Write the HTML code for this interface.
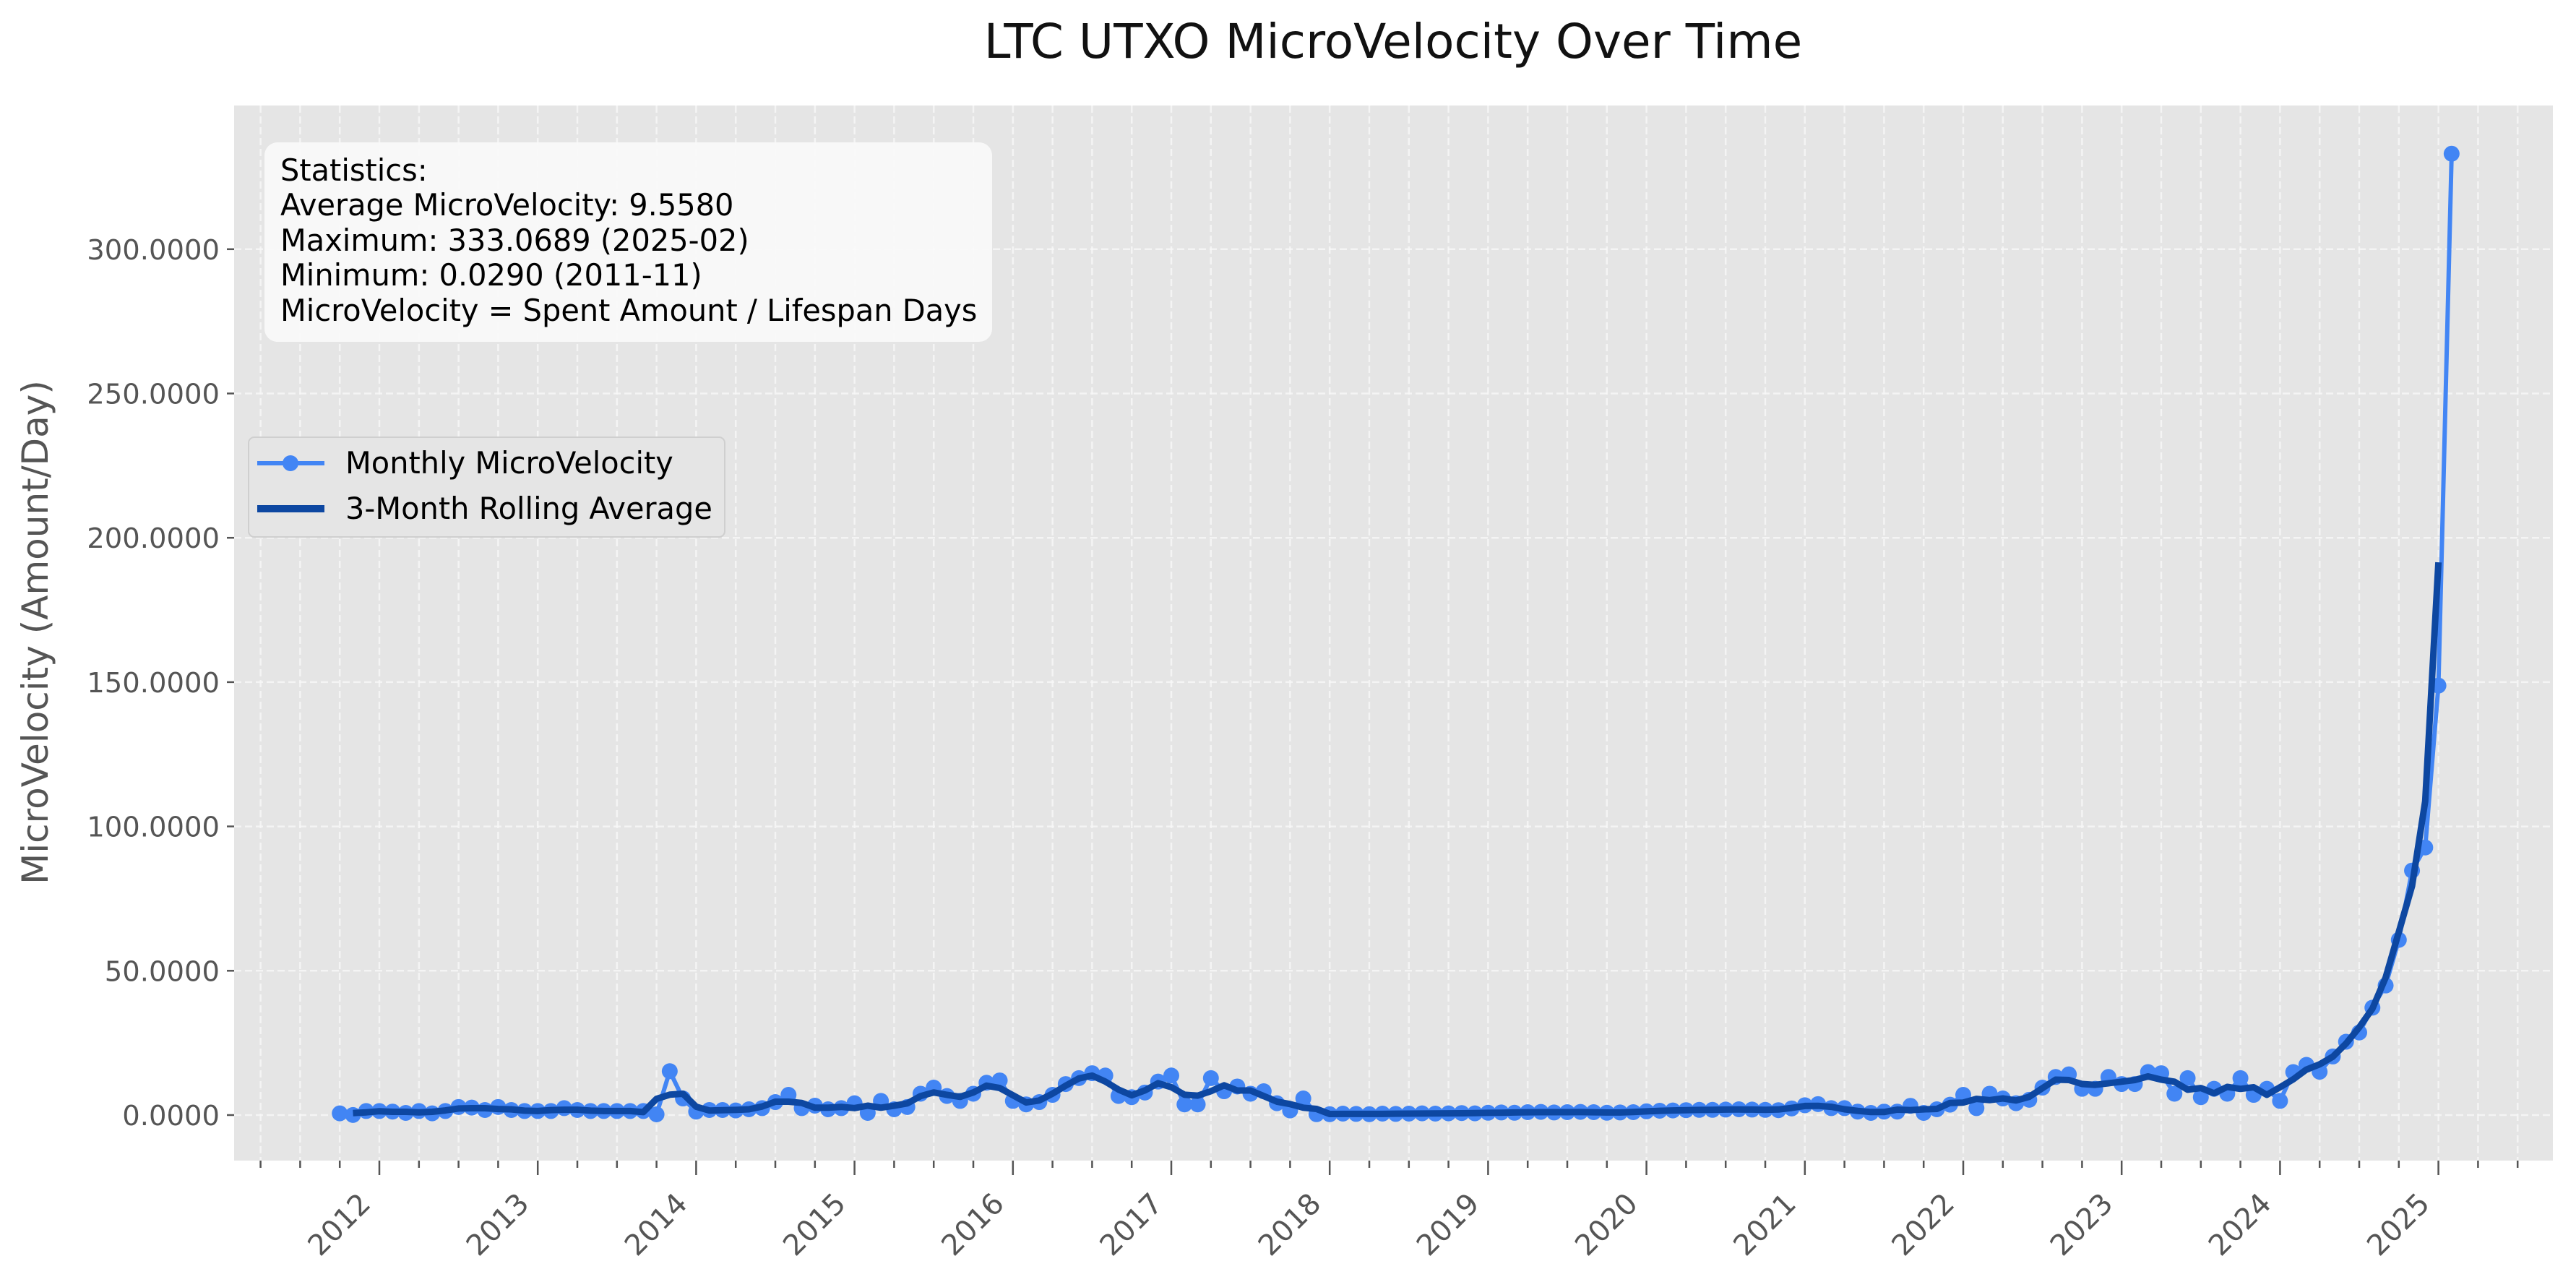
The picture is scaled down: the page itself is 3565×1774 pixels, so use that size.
<!DOCTYPE html>
<html><head><meta charset="utf-8">
<style>
html,body{margin:0;padding:0;background:#fff;}
svg{display:block;font-family:"DejaVu Sans","Liberation Sans",sans-serif;}
</style></head>
<body>
<svg id="chart" width="3565" height="1774" viewBox="0 0 3565 1774" xmlns="http://www.w3.org/2000/svg">
<rect width="3565" height="1774" fill="#ffffff"/>
<text x="1928" y="80" font-size="66" text-anchor="middle" fill="#111">LTC UTXO MicroVelocity Over Time</text>
<rect x="324" y="146" width="3209" height="1460" fill="#e5e5e5"/>
<g id="grid"></g>
<g id="axes"></g>
<g id="series"></g>
<text transform="translate(66,875) rotate(-90)" font-size="50" text-anchor="middle" fill="#555">MicroVelocity (Amount/Day)</text>
<g>
<rect x="366" y="197" width="1007" height="276" rx="18" fill="#fafafa" fill-opacity="0.9"/>
<text x="388" y="250" font-size="41.5" fill="#000">
<tspan x="388" y="250">Statistics:</tspan>
<tspan x="388" y="298">Average MicroVelocity: 9.5580</tspan>
<tspan x="388" y="347">Maximum: 333.0689 (2025-02)</tspan>
<tspan x="388" y="395">Minimum: 0.0290 (2011-11)</tspan>
<tspan x="388" y="444">MicroVelocity = Spent Amount / Lifespan Days</tspan>
</text>
</g>
<g>
<rect x="344" y="605" width="659" height="138" rx="8" fill="#e5e5e5" stroke="#cfcfcf" stroke-width="2"/>
<g>
<line x1="356" y1="641" x2="449" y2="641" stroke="#4285f4" stroke-width="6"/>
<circle cx="402" cy="641" r="11" fill="#4285f4"/>
<text x="478" y="655" font-size="41.5" fill="#000">Monthly MicroVelocity</text>
</g>
<g>
<line x1="356" y1="704" x2="449" y2="704" stroke="#0d47a1" stroke-width="10"/>
<text x="478" y="718" font-size="41.5" fill="#000">3-Month Rolling Average</text>
</g>
</g>
</svg>
<script>
const startYear = 2011, startMonth = 10;
const values2011 = [0.6, 0.029, 1.4];
const values2012 = [1.4,1.2,0.75,1.4,0.6,1.4,2.8,2.6,1.75,2.8,1.75,1.4];
const values2013 = [1.4,1.4,2.4,1.75,1.4,1.4,1.4,1.4,1.4,0.25,15.2,5.75];
const values2014 = [1.2,1.75,1.75,1.6,2.0,2.4,4.5,7.0,2.4,3.25,2.0,2.4];
const values2015 = [4.1,0.75,4.9,2.0,2.8,7.4,9.5,6.6,4.9,7.4,11.2,12.0];
const values2016 = [4.9,3.7,4.5,7.0,10.75,12.8,14.5,13.7,6.6,6.2,7.8,11.6];
const values2017 = [13.7,3.7,3.7,12.8,8.25,9.9,7.4,8.25,4.1,1.6,5.75,0.3];
const values2018 = [0.3,0.5,0.4,0.3,0.5,0.4,0.5,0.6,0.5,0.6,0.7,0.6];
const values2019 = [0.8,0.9,0.8,1.0,1.1,0.9,1.0,1.1,1.0,0.8,0.9,1.0];
const values2020 = [1.3,1.5,1.6,1.7,1.8,1.8,1.9,2.0,1.9,1.8,1.7,2.3];
const values2021 = [3.4,3.8,2.4,2.4,1.2,0.75,1.2,1.2,3.2,0.75,2.0,3.6];
const values2022 = [7.0,2.4,7.4,5.75,4.1,5.3,9.5,13.2,14.1,9.1,9.1,13.2];
const values2023 = [10.75,10.75,14.9,14.5,7.4,12.8,6.2,9.1,7.4,12.8,7.0,9.1];
const values2024 = [4.9,14.9,17.4,15.0,20.3,25.4,28.6,37.2,44.9,60.7,84.7,92.7];
const values2025 = [148.8,333.0689];
const yTicks = [0,50,100,150,200,250,300];
const yearTicks = [2012,2013,2014,2015,2016,2017,2018,2019,2020,2021,2022,2023,2024,2025];

const values = [].concat(values2011,values2012,values2013,values2014,values2015,values2016,values2017,values2018,values2019,values2020,values2021,values2022,values2023,values2024,values2025);

const NS = "http://www.w3.org/2000/svg";
const PL = 324, PR = 3533, PT = 146, PB = 1606;
function xScale(monthsFrom2012){ return 525 + monthsFrom2012 * 219.2 / 12; }
function yScale(v){ return 1543 - v * 3.994; }
function monthIndex(i){ return (startYear - 2012) * 12 + (startMonth - 1) + i; }
function mk(tag, attrs, parent){ const e = document.createElementNS(NS, tag); for (const k in attrs) e.setAttribute(k, attrs[k]); parent.appendChild(e); return e; }

const grid = document.getElementById('grid');
const axes = document.getElementById('axes');
const series = document.getElementById('series');

for (let m = -12; m <= 14*12; m += 3) {
  const x = xScale(m);
  if (x < PL || x > PR) continue;
  const major = (m % 12 === 0);
  const gl = mk('line', {x1:x, y1:PT, x2:x, y2:PB, stroke:'#f7f7f7', 'stroke-width':2.5, 'stroke-dasharray':'10,5', 'stroke-opacity':0.85}, grid);
  
  
  const t = mk('line', {x1:x, y1:PB, x2:x, y2:PB + (major ? 20 : 10), stroke:'#555', 'stroke-width':2.5}, axes);
  
  
}
yearTicks.forEach(function(yr){
  const x = xScale((yr - 2012) * 12) - 10;
  const y = 1668;
  const lbl = mk('text', {x:x, y:y, 'font-size':40, fill:'#555', 'text-anchor':'end', transform:'rotate(-45 ' + x + ' ' + y + ')'}, axes);
  lbl.textContent = String(yr);
  
  
});
yTicks.forEach(function(v){
  const y = yScale(v);
  const gl = mk('line', {x1:PL, y1:y, x2:PR, y2:y, stroke:'#f7f7f7', 'stroke-width':2.5, 'stroke-dasharray':'10,5', 'stroke-opacity':0.85}, grid);
  
  
  const t = mk('line', {x1:PL-10, y1:y, x2:PL, y2:y, stroke:'#555', 'stroke-width':2.5}, axes);
  
  
  const lbl = mk('text', {x:PL-20, y:y+14, 'font-size':38.5, fill:'#555', 'text-anchor':'end'}, axes);
  lbl.textContent = v.toFixed(4);
  
  
});

let d = '';
values.forEach(function(v, i){ d += (i ? 'L' : 'M') + xScale(monthIndex(i)).toFixed(1) + ',' + yScale(v).toFixed(1); });
const ml = mk('path', {d:d, fill:'none', stroke:'#4285f4', 'stroke-width':6, 'stroke-linejoin':'round'}, series);


values.forEach(function(v, i){
  const c = mk('circle', {cx:xScale(monthIndex(i)), cy:yScale(v), r:11, fill:'#4285f4'}, series);
  
  
});
let rd = '';
for (let i = 1; i < values.length - 1; i++) {
  const avg = (values[i-1] + values[i] + values[i+1]) / 3;
  rd += (i === 1 ? 'M' : 'L') + xScale(monthIndex(i)).toFixed(1) + ',' + yScale(avg).toFixed(1);
}
const rl = mk('path', {d:rd, fill:'none', stroke:'#0d47a1', 'stroke-width':9, 'stroke-linejoin':'round'}, series);


</script>
</body></html>
